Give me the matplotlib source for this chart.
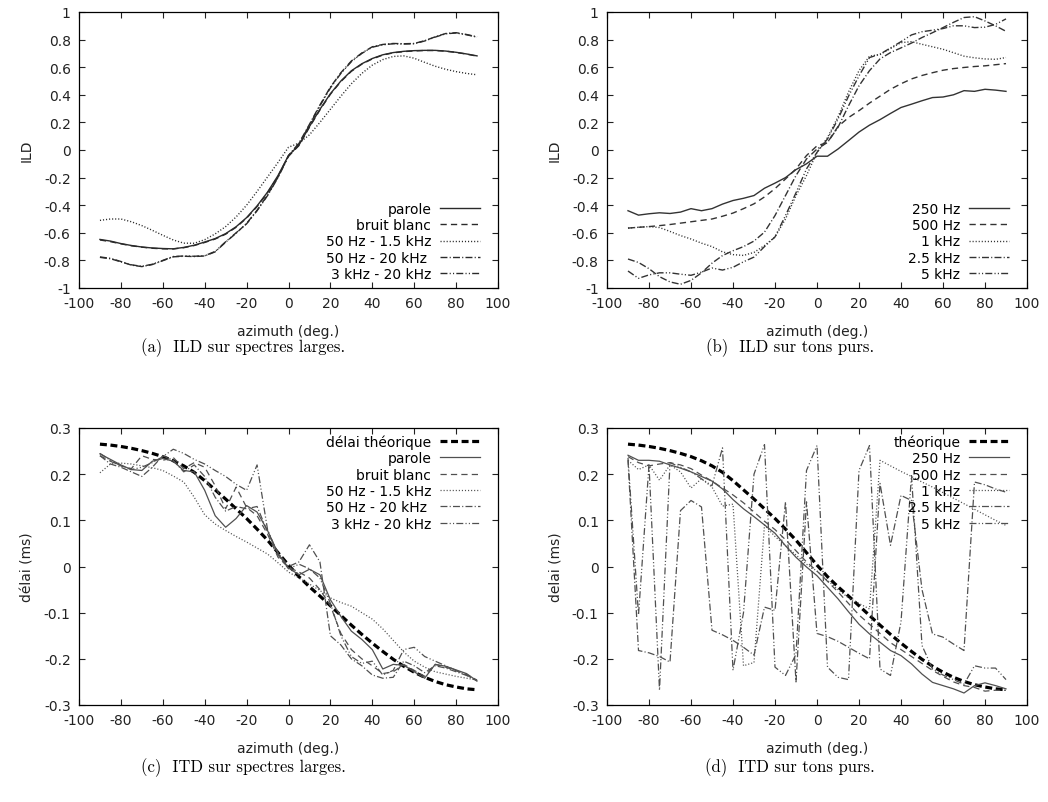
"""ILD / ITD versus azimuth: four panels with captions (a)-(d)."""
import matplotlib
matplotlib.use("Agg")
import matplotlib.pyplot as plt
from matplotlib.ticker import FixedLocator, FuncFormatter

plt.rcParams["font.family"] = "DejaVu Sans"
plt.rcParams["axes.unicode_minus"] = False
plt.rcParams["lines.scale_dashes"] = False

AZ = [-90, -85, -80, -75, -70, -65, -60, -55, -50, -45, -40, -35, -30, -25,
      -20, -15, -10, -5, 0, 5, 10, 15, 20, 25, 30, 35, 40, 45, 50, 55, 60,
      65, 70, 75, 80, 85, 90]

# ── (a) ILD, wide spectra ────────────────────────────────────────────────────
ILD_PAROLE = [-0.648, -0.660, -0.678, -0.692, -0.703, -0.710, -0.714, -0.716,
              -0.706, -0.690, -0.667, -0.642, -0.606, -0.556, -0.490, -0.405,
              -0.305, -0.185, -0.040, 0.036, 0.170, 0.295, 0.408, 0.500, 0.574,
              0.625, 0.663, 0.690, 0.706, 0.715, 0.720, 0.722, 0.722, 0.717,
              0.708, 0.696, 0.682]
ILD_BRUIT = [-0.652, -0.664, -0.680, -0.694, -0.704, -0.712, -0.716, -0.717,
             -0.708, -0.692, -0.670, -0.645, -0.610, -0.560, -0.494, -0.410,
             -0.310, -0.190, -0.045, 0.032, 0.165, 0.290, 0.404, 0.496, 0.570,
             0.622, 0.660, 0.688, 0.704, 0.713, 0.718, 0.721, 0.721, 0.716,
             0.707, 0.695, 0.680]
ILD_50_1500 = [-0.510, -0.500, -0.500, -0.520, -0.548, -0.582, -0.618, -0.652,
               -0.675, -0.676, -0.650, -0.608, -0.555, -0.485, -0.400, -0.300,
               -0.195, -0.090, 0.020, 0.050, 0.110, 0.200, 0.295, 0.390, 0.480,
               0.555, 0.615, 0.655, 0.678, 0.682, 0.665, 0.635, 0.607, 0.585,
               0.568, 0.555, 0.545]
ILD_50_20K = [-0.778, -0.788, -0.810, -0.834, -0.845, -0.830, -0.802, -0.774,
              -0.770, -0.772, -0.768, -0.738, -0.668, -0.603, -0.532, -0.437,
              -0.326, -0.196, -0.040, 0.050, 0.186, 0.326, 0.456, 0.560, 0.645,
              0.703, 0.748, 0.765, 0.772, 0.770, 0.772, 0.792, 0.820, 0.844,
              0.850, 0.837, 0.820]
ILD_3K_20K = [-0.775, -0.785, -0.808, -0.832, -0.843, -0.828, -0.800, -0.772,
              -0.768, -0.770, -0.766, -0.735, -0.665, -0.600, -0.535, -0.440,
              -0.330, -0.200, -0.045, 0.045, 0.180, 0.320, 0.450, 0.555, 0.640,
              0.700, 0.745, 0.762, 0.770, 0.768, 0.770, 0.790, 0.818, 0.842,
              0.848, 0.835, 0.818]

# ── (b) ILD, pure tones ──────────────────────────────────────────────────────
ILD_250 = [-0.440, -0.472, -0.462, -0.455, -0.460, -0.450, -0.425, -0.440,
           -0.425, -0.392, -0.366, -0.350, -0.330, -0.277, -0.240, -0.200,
           -0.142, -0.100, -0.045, -0.045, 0.007, 0.068, 0.130, 0.180, 0.220,
           0.265, 0.308, 0.332, 0.357, 0.380, 0.384, 0.400, 0.430, 0.425,
           0.440, 0.434, 0.425]
ILD_500 = [-0.566, -0.560, -0.555, -0.548, -0.540, -0.530, -0.520, -0.510,
           -0.500, -0.480, -0.457, -0.425, -0.390, -0.340, -0.280, -0.210,
           -0.137, -0.040, 0.030, 0.055, 0.170, 0.235, 0.285, 0.340, 0.390,
           0.440, 0.480, 0.515, 0.540, 0.560, 0.578, 0.590, 0.598, 0.605,
           0.610, 0.618, 0.626]
ILD_1K = [-0.566, -0.560, -0.555, -0.562, -0.590, -0.620, -0.645, -0.675,
          -0.700, -0.738, -0.758, -0.764, -0.742, -0.692, -0.630, -0.500,
          -0.330, -0.185, -0.017, 0.090, 0.240, 0.420, 0.575, 0.680, 0.692,
          0.735, 0.778, 0.785, 0.766, 0.748, 0.730, 0.705, 0.680, 0.668,
          0.660, 0.657, 0.670]
ILD_2K5 = [-0.790, -0.815, -0.860, -0.918, -0.956, -0.973, -0.945, -0.890,
           -0.820, -0.765, -0.730, -0.700, -0.660, -0.595, -0.475, -0.330,
           -0.185, -0.065, 0.007, 0.055, 0.164, 0.320, 0.465, 0.575, 0.660,
           0.706, 0.740, 0.775, 0.815, 0.850, 0.887, 0.925, 0.960, 0.966,
           0.935, 0.900, 0.860]
ILD_5K = [-0.877, -0.930, -0.905, -0.890, -0.890, -0.900, -0.908, -0.885,
          -0.855, -0.870, -0.850, -0.810, -0.776, -0.700, -0.630, -0.475,
          -0.310, -0.137, -0.017, 0.080, 0.224, 0.390, 0.537, 0.670, 0.694,
          0.740, 0.785, 0.834, 0.857, 0.868, 0.880, 0.900, 0.900, 0.887,
          0.890, 0.910, 0.950]

# ── theoretical delay (ms), shared by (c) and (d) ────────────────────────────
ITD_THEO = [0.265, 0.263, 0.260, 0.256, 0.251, 0.245, 0.238, 0.229, 0.218,
            0.204, 0.186, 0.166, 0.146, 0.125, 0.104, 0.081, 0.057, 0.030,
            0.003, -0.022, -0.044, -0.064, -0.085, -0.106, -0.127, -0.147,
            -0.166, -0.184, -0.201, -0.216, -0.229, -0.240, -0.249, -0.256,
            -0.261, -0.265, -0.267]

# ── (c) ITD, wide spectra ────────────────────────────────────────────────────
ITD_PAROLE = [0.244, 0.232, 0.220, 0.210, 0.208, 0.228, 0.234, 0.228, 0.208,
              0.205, 0.165, 0.110, 0.085, 0.104, 0.132, 0.118, 0.078, 0.028,
              -0.003, -0.018, -0.006, -0.018, -0.072, -0.108, -0.140, -0.158,
              -0.180, -0.222, -0.212, -0.214, -0.228, -0.242, -0.212, -0.216,
              -0.224, -0.232, -0.248]
ITD_BRUIT = [0.240, 0.228, 0.218, 0.212, 0.240, 0.232, 0.230, 0.236, 0.212,
             0.225, 0.215, 0.175, 0.125, 0.172, 0.128, 0.110, 0.070, 0.020,
             -0.002, -0.012, -0.025, -0.050, -0.085, -0.145, -0.180, -0.200,
             -0.215, -0.232, -0.228, -0.212, -0.225, -0.238, -0.212, -0.218,
             -0.226, -0.234, -0.246]
ITD_50_1500 = [0.203, 0.222, 0.224, 0.222, 0.218, 0.214, 0.208, 0.196, 0.183,
               0.150, 0.112, 0.092, 0.078, 0.065, 0.053, 0.040, 0.027, 0.008,
               -0.012, -0.025, -0.038, -0.052, -0.068, -0.078, -0.086, -0.100,
               -0.114, -0.135, -0.160, -0.185, -0.205, -0.218, -0.228, -0.233,
               -0.238, -0.242, -0.246]
ITD_50_20K = [0.240, 0.222, 0.215, 0.205, 0.195, 0.215, 0.240, 0.230, 0.205,
              0.220, 0.195, 0.150, 0.120, 0.130, 0.125, 0.130, 0.075, 0.030,
              0.000, 0.010, 0.047, 0.010, -0.150, -0.170, -0.200, -0.215,
              -0.235, -0.242, -0.240, -0.205, -0.215, -0.230, -0.215, -0.220,
              -0.228, -0.236, -0.248]
ITD_3K_20K = [0.245, 0.230, 0.218, 0.210, 0.215, 0.225, 0.238, 0.254, 0.245,
              0.232, 0.222, 0.208, 0.195, 0.178, 0.165, 0.220, 0.080, 0.025,
              -0.005, 0.005, -0.005, -0.025, -0.080, -0.150, -0.195, -0.210,
              -0.205, -0.235, -0.225, -0.180, -0.175, -0.195, -0.205, -0.215,
              -0.225, -0.235, -0.248]

# ── (d) ITD, pure tones ──────────────────────────────────────────────────────
ITD_250 = [0.241, 0.230, 0.230, 0.228, 0.220, 0.213, 0.205, 0.195, 0.185,
           0.168, 0.145, 0.125, 0.108, 0.090, 0.072, 0.045, 0.020, -0.001,
           -0.020, -0.045, -0.070, -0.098, -0.125, -0.146, -0.164, -0.182,
           -0.193, -0.211, -0.233, -0.251, -0.258, -0.265, -0.274, -0.258,
           -0.252, -0.258, -0.265]
ITD_500 = [0.238, 0.225, 0.218, 0.222, 0.225, 0.220, 0.212, 0.198, 0.185,
           0.170, 0.155, 0.138, 0.118, 0.098, 0.080, 0.058, 0.034, 0.010,
           -0.010, -0.032, -0.055, -0.080, -0.105, -0.125, -0.145, -0.165,
           -0.180, -0.195, -0.210, -0.225, -0.238, -0.250, -0.258, -0.262,
           -0.270, -0.268, -0.268]
ITD_1K = [0.230, 0.210, 0.220, 0.187, 0.220, 0.205, 0.170, 0.190, 0.172,
          0.131, 0.135, -0.215, -0.208, 0.090, 0.065, 0.045, 0.025, 0.005,
          -0.010, -0.030, -0.050, -0.068, -0.080, -0.092, 0.230, 0.218, 0.206,
          0.195, 0.183, 0.172, 0.160, 0.148, 0.136, 0.124, 0.112, 0.100,
          0.089]
ITD_2K5 = [0.230, -0.182, -0.187, -0.195, -0.207, 0.121, 0.143, 0.129, -0.138,
           -0.148, -0.160, -0.175, -0.192, -0.088, -0.095, 0.140, -0.250,
           0.140, -0.145, -0.152, -0.162, -0.175, -0.188, -0.200, 0.180, 0.046,
           0.154, 0.143, -0.050, -0.146, -0.153, -0.168, -0.182, 0.183, 0.177,
           0.168, 0.161]
ITD_5K = [0.235, -0.105, 0.220, -0.268, 0.225, 0.215, 0.205, 0.190, 0.175,
          0.257, -0.225, -0.100, 0.200, 0.264, -0.218, -0.236, -0.190, 0.208,
          0.262, -0.218, -0.240, -0.245, 0.208, 0.262, -0.222, -0.236, -0.120,
          0.197, -0.171, -0.222, -0.235, -0.245, -0.255, -0.215, -0.220,
          -0.220, -0.245]

LABELS_WIDE = ["parole", "bruit blanc", "50 Hz - 1.5 kHz", "50 Hz - 20 kHz ",
               "3 kHz - 20 kHz"]
LABELS_TONES = ["250 Hz", "500 Hz", "1 kHz", "2.5 kHz", "5 kHz"]

CAPTIONS = ["(a)  ILD sur spectres larges.", "(b)  ILD sur tons purs.",
            "(c)  ITD sur spectres larges.", "(d)  ITD sur tons purs."]

# gnuplot-like monochrome line types
STYLES = [
    dict(ls="-"),
    dict(ls=(0, (4.5, 3.0))),
    dict(ls=(0, (0.8, 1.4))),
    dict(ls=(0, (5.0, 1.6, 0.8, 1.6))),
    dict(ls=(0, (5.0, 1.6, 0.8, 1.6, 0.8, 1.6))),
]
THEO_STYLE = dict(color="black", lw=2.3, ls=(0, (5.0, 2.6)))

FS = 10


def fmt(v, _pos):
    s = f"{v:.1f}".rstrip("0").rstrip(".")
    return "0" if s in ("-0", "0") else s


def style_axes(ax, ylim, yticks, ylabel):
    ax.set_xlim(-100, 100)
    ax.set_ylim(*ylim)
    ax.xaxis.set_major_locator(FixedLocator(range(-100, 101, 20)))
    ax.yaxis.set_major_locator(FixedLocator(yticks))
    ax.xaxis.set_major_formatter(FuncFormatter(lambda v, p: f"{v:.0f}"))
    ax.yaxis.set_major_formatter(FuncFormatter(fmt))
    ax.tick_params(direction="in", length=4.5, width=0.8, top=True,
                   right=True, labelsize=FS, pad=6, colors="#222222")
    for sp in ax.spines.values():
        sp.set_linewidth(0.9)
    ax.set_xlabel("azimuth (deg.)", fontsize=FS, labelpad=10, color="#222222")
    ax.set_ylabel(ylabel, fontsize=FS, labelpad=7, color="#222222")


def legend(ax, loc, anchor):
    ax.legend(loc=loc, bbox_to_anchor=anchor, frameon=False, fontsize=FS,
              markerfirst=False, handlelength=2.9, handletextpad=0.6,
              labelspacing=0.17, borderpad=0, borderaxespad=0)


fig = plt.figure(figsize=(10.48, 8.03), dpi=100)
W, H = 1048, 803


def add_axes(x0, y0, x1, y1):
    return fig.add_axes([x0 / W, 1 - y1 / H, (x1 - x0) / W, (y1 - y0) / H])


ax_a = add_axes(79, 13, 498, 289)
ax_b = add_axes(607, 13, 1027, 289)
ax_c = add_axes(79, 429, 498, 706)
ax_d = add_axes(607, 429, 1027, 706)

ild_ticks = [-1, -0.8, -0.6, -0.4, -0.2, 0, 0.2, 0.4, 0.6, 0.8, 1]
itd_ticks = [-0.3, -0.2, -0.1, 0, 0.1, 0.2, 0.3]

# (a)
for ys, lab, st in zip([ILD_PAROLE, ILD_BRUIT, ILD_50_1500, ILD_50_20K,
                        ILD_3K_20K], LABELS_WIDE, STYLES):
    ax_a.plot(AZ, ys, color="#2a2a2a", lw=1.0, label=lab, **st)
style_axes(ax_a, (-1, 1), ild_ticks, "ILD")
legend(ax_a, "lower right", (0.957, 0.025))

# (b)
for ys, lab, st in zip([ILD_250, ILD_500, ILD_1K, ILD_2K5, ILD_5K],
                       LABELS_TONES, STYLES):
    ax_b.plot(AZ, ys, color="#333333", lw=1.0, label=lab, **st)
style_axes(ax_b, (-1, 1), ild_ticks, "ILD")
legend(ax_b, "lower right", (0.957, 0.025))

# (c)
ax_c.plot(AZ, ITD_THEO, label="délai théorique", **THEO_STYLE)
for ys, lab, st in zip([ITD_PAROLE, ITD_BRUIT, ITD_50_1500, ITD_50_20K,
                        ITD_3K_20K], LABELS_WIDE, STYLES):
    ax_c.plot(AZ, ys, color="#505050", lw=0.9, label=lab, **st)
style_axes(ax_c, (-0.3, 0.3), itd_ticks, "délai (ms)")
legend(ax_c, "upper right", (0.957, 0.977))

# (d)
ax_d.plot(AZ, ITD_THEO, label="théorique", **THEO_STYLE)
for ys, lab, st in zip([ITD_250, ITD_500, ITD_1K, ITD_2K5, ITD_5K],
                       LABELS_TONES, STYLES):
    ax_d.plot(AZ, ys, color="#505050", lw=0.9, label=lab, **st)
style_axes(ax_d, (-0.3, 0.3), itd_ticks, "delai (ms)")
legend(ax_d, "upper right", (0.957, 0.977))

# captions under each panel
for (cx, cy), txt in zip([(243, 348), (790, 348), (243, 768), (790, 768)],
                         CAPTIONS):
    fig.text(cx / W, 1 - cy / H, txt, ha="center", va="center",
             fontsize=12, family="cmr10")

fig.savefig("out.png", dpi=100)
